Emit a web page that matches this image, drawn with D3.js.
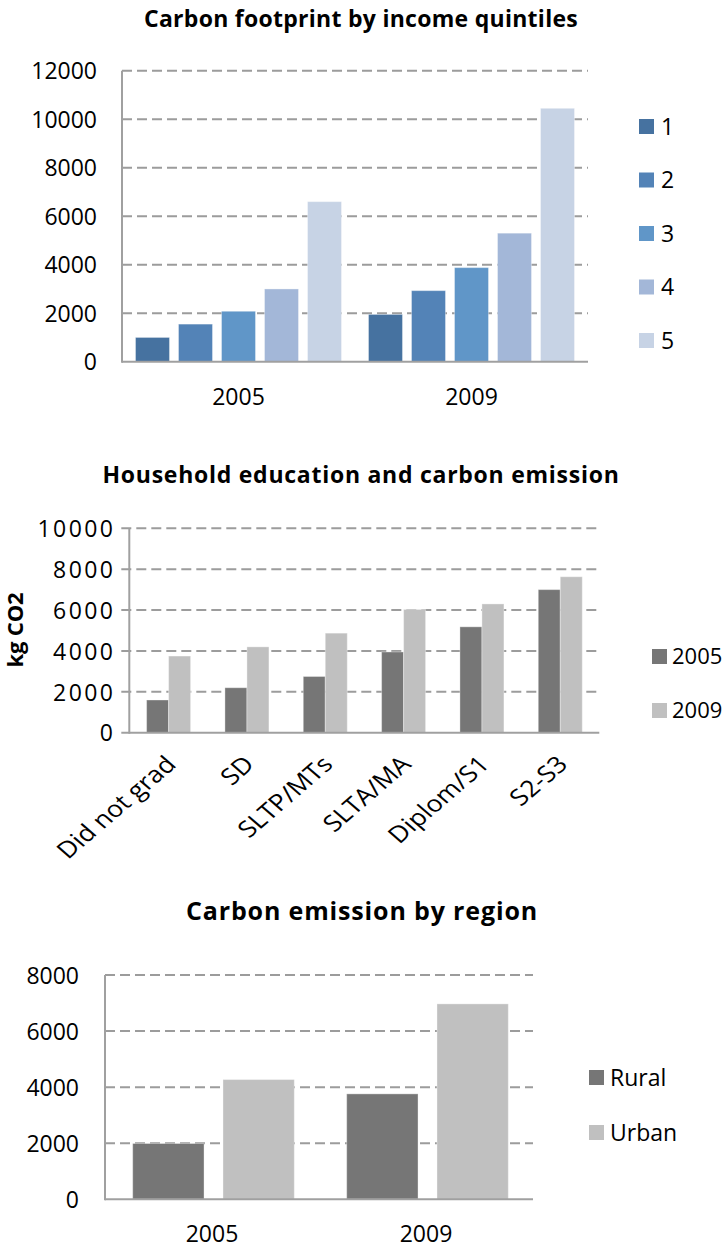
<!DOCTYPE html>
<html>
<head>
<meta charset="utf-8">
<script src="https://cdn.jsdelivr.net/npm/d3@7"></script>
<style>
  body { margin: 0; background: #fff; }
  svg { display: block; font-family: "Open Sans", sans-serif; }
  .grid line { stroke: #9c9c9c; stroke-width: 2px; stroke-dasharray: 10,5; }
  .axisLine { stroke: #a0a0a0; stroke-width: 2px; }
</style>
</head>
<body>
<svg width="726" height="1249"></svg>
<script>
let svg = d3.select("svg");

// chart 1 - income quintiles
let incomeYears = ["2005", "2009"];
let quintiles = ["1", "2", "3", "4", "5"];
let income2005 = [1000, 1550, 2080, 3000, 6600];
let income2009 = [1950, 2930, 3880, 5300, 10450];
let incomeTicks = [0, 2000, 4000, 6000, 8000, 10000, 12000];
let quintileColors = ["#4672a0", "#5383b7", "#6096c8", "#a3b7d8", "#c7d3e5"];

// chart 2 - education
let eduLevels = ["Did not grad", "SD", "SLTP/MTs", "SLTA/MA", "Diplom/S1", "S2-S3"];
let eduSeries = ["2005", "2009"];
let edu2005 = [1600, 2200, 2750, 3950, 5180, 7000];
let edu2009 = [3750, 4200, 4870, 6030, 6300, 7630];
let eduTicks = [0, 2000, 4000, 6000, 8000, 10000];

// chart 3 - region
let regionYears = ["2005", "2009"];
let regionSeries = ["Rural", "Urban"];
let rural = [1990, 3760];
let urban = [4270, 6970];
let regionTicks = [0, 2000, 4000, 6000, 8000];

let grayColors = ["#767676", "#c0c0c0"];

//squeeze or spread a text to a given width, keeping its height
function fitText(sel, target){
    sel.each(function(){
        let n = this.textContent.length;
        let w = this.getComputedTextLength();
        d3.select(this).style("letter-spacing", ((target - w) / n) + "px");
    });
}

/**
* Draws one grouped bar chart.
* cfg: categories, series, values (array per series), colors,
* x range, y range, ticks and some label offsets
*/
function drawChart(cfg){
    let g = svg.append("g");

    let x0 = d3.scaleBand()
        .domain(cfg.categories)
        .range(cfg.xRange);
    let x1 = d3.scaleBand()
        .domain(cfg.series)
        .range(cfg.innerRange)
        .paddingInner(cfg.innerPad);
    let y = d3.scaleLinear()
        .domain([0, d3.max(cfg.ticks)])
        .range(cfg.yRange);

    //dashed grid
    g.append("g")
        .attr("class", "grid")
        .selectAll("line")
        .data(cfg.ticks.filter(t => t > 0))
        .enter().append("line")
            .attr("x1", cfg.xRange[0] - cfg.tickLen)
            .attr("x2", cfg.xRange[1])
            .attr("y1", d => y(d))
            .attr("y2", d => y(d));

    //bars
    let rows = [];
    cfg.categories.forEach((c, i) => {
        cfg.series.forEach((s, j) => {
            rows.push({cat: c, ser: s, idx: j, value: cfg.values[j][i]});
        });
    });
    g.append("g")
        .selectAll("rect")
        .data(rows).enter().append("rect")
            .attr("x", d => x0(d.cat) + x1(d.ser))
            .attr("y", d => y(d.value))
            .attr("width", x1.bandwidth())
            .attr("height", d => y(0) - y(d.value))
            .attr("fill", d => cfg.colors[d.idx])
            .attr("stroke", "rgba(255,255,255,0.35)")
            .attr("stroke-width", 1);

    //axis lines
    g.append("line")
        .attr("class", "axisLine")
        .attr("x1", cfg.xRange[0]).attr("x2", cfg.xRange[0])
        .attr("y1", cfg.yRange[1]).attr("y2", y(0) + 1);
    g.append("line")
        .attr("class", "axisLine")
        .attr("x1", cfg.xRange[0] - cfg.tickLen).attr("x2", cfg.xRange[1])
        .attr("y1", y(0)).attr("y2", y(0));

    //y labels
    let yAxis = g.append("g")
        .attr("transform", "translate(" + cfg.xRange[0] + ",0)")
        .call(d3.axisLeft(y).tickValues(cfg.ticks).tickSize(0)
              .tickPadding(cfg.yPad).tickFormat(d3.format("d")));
    yAxis.select(".domain").remove();
    yAxis.selectAll("text")
        .attr("dy", "0.36em")
        .style("font-family", "Open Sans")
        .style("font-size", "23px")
        .style("letter-spacing", cfg.spacing + "px")
        .attr("fill", "#000");

    //x labels
    let xAxis = g.append("g")
        .attr("transform", "translate(0," + y(0) + ")")
        .call(d3.axisBottom(x0).tickSize(0).tickPadding(cfg.xPad));
    xAxis.select(".domain").remove();
    xAxis.selectAll("text")
        .style("font-family", "Open Sans")
        .style("font-size", cfg.xFont + "px")
        .attr("fill", "#000");
    if (cfg.rotate){
        //slanted labels, a bit wider like the rest of this chart
        xAxis.selectAll("text")
            .attr("y", 0).attr("dy", 0)
            .attr("text-anchor", "end")
            .attr("transform", "translate(" + cfg.rotX + "," + cfg.xPad + ") scale(1.16,1) rotate(-45)");
    }

    //title
    g.append("text")
        .attr("x", cfg.titleX).attr("y", cfg.titleY)
        .attr("text-anchor", "middle")
        .style("font-family", "Open Sans")
        .style("font-weight", "bold")
        .style("font-size", cfg.titleFont + "px")
        .text(cfg.title)
        .call(fitText, cfg.titleW);

    //legend
    let leg = g.append("g")
        .selectAll("g")
        .data(cfg.series).enter().append("g")
            .attr("transform", (d, i) => "translate(" + cfg.legX + "," + (cfg.legY + i * cfg.legStep) + ")");
    leg.append("rect")
        .attr("width", 15).attr("height", 15)
        .attr("fill", (d, i) => cfg.colors[i]);
    leg.append("text")
        .attr("x", cfg.legText).attr("y", 7.5).attr("dy", "0.36em")
        .style("font-family", "Open Sans")
        .style("font-size", cfg.legFont + "px")
        .text(d => d);

    return {g: g, y: y};
}

drawChart({
    categories: incomeYears, series: quintiles,
    values: quintiles.map((q, i) => [income2005[i], income2009[i]]),
    colors: quintileColors,
    xRange: [122, 588], innerRange: [13.5, 219.5], innerPad: 0.21,
    yRange: [361.7, 70.7], ticks: incomeTicks, tickLen: 0,
    yPad: 25, xPad: 27, xFont: 23, spacing: 0,
    title: "Carbon footprint by income quintiles",
    titleX: 361, titleY: 27, titleFont: 23, titleW: 434,
    legX: 639, legY: 119, legStep: 53.5, legText: 22, legFont: 23
});

let edu = drawChart({
    categories: eduLevels, series: eduSeries,
    values: [edu2005, edu2009],
    colors: grayColors,
    xRange: [129.3, 599.3], innerRange: [17.3, 61.3], innerPad: 0,
    yRange: [732.7, 528.3], ticks: eduTicks, tickLen: 8,
    yPad: 14, xPad: 33, xFont: 23, spacing: 2.4, rotate: true, rotX: 9,
    title: "Household education and carbon emission",
    titleX: 361, titleY: 483, titleFont: 23, titleW: 517,
    legX: 652, legY: 649, legStep: 54, legText: 20, legFont: 22
});

//y axis title of the education chart
edu.g.append("text")
    .attr("transform", "translate(23,630) rotate(-90)")
    .attr("text-anchor", "middle")
    .style("font-family", "Open Sans")
    .style("font-weight", "bold")
    .style("font-size", "22px")
    .text("kg CO2")
    .call(fitText, 75);

drawChart({
    categories: regionYears, series: regionSeries,
    values: [rural, urban],
    colors: grayColors,
    xRange: [105, 533], innerRange: [27.7, 189.3], innerPad: 0.21,
    yRange: [1199.3, 975], ticks: regionTicks, tickLen: 0,
    yPad: 26, xPad: 26, xFont: 23, spacing: 0,
    title: "Carbon emission by region",
    titleX: 362, titleY: 920, titleFont: 25, titleW: 352,
    legX: 589, legY: 1070, legStep: 55, legText: 21, legFont: 23
});
</script>
</body>
</html>
